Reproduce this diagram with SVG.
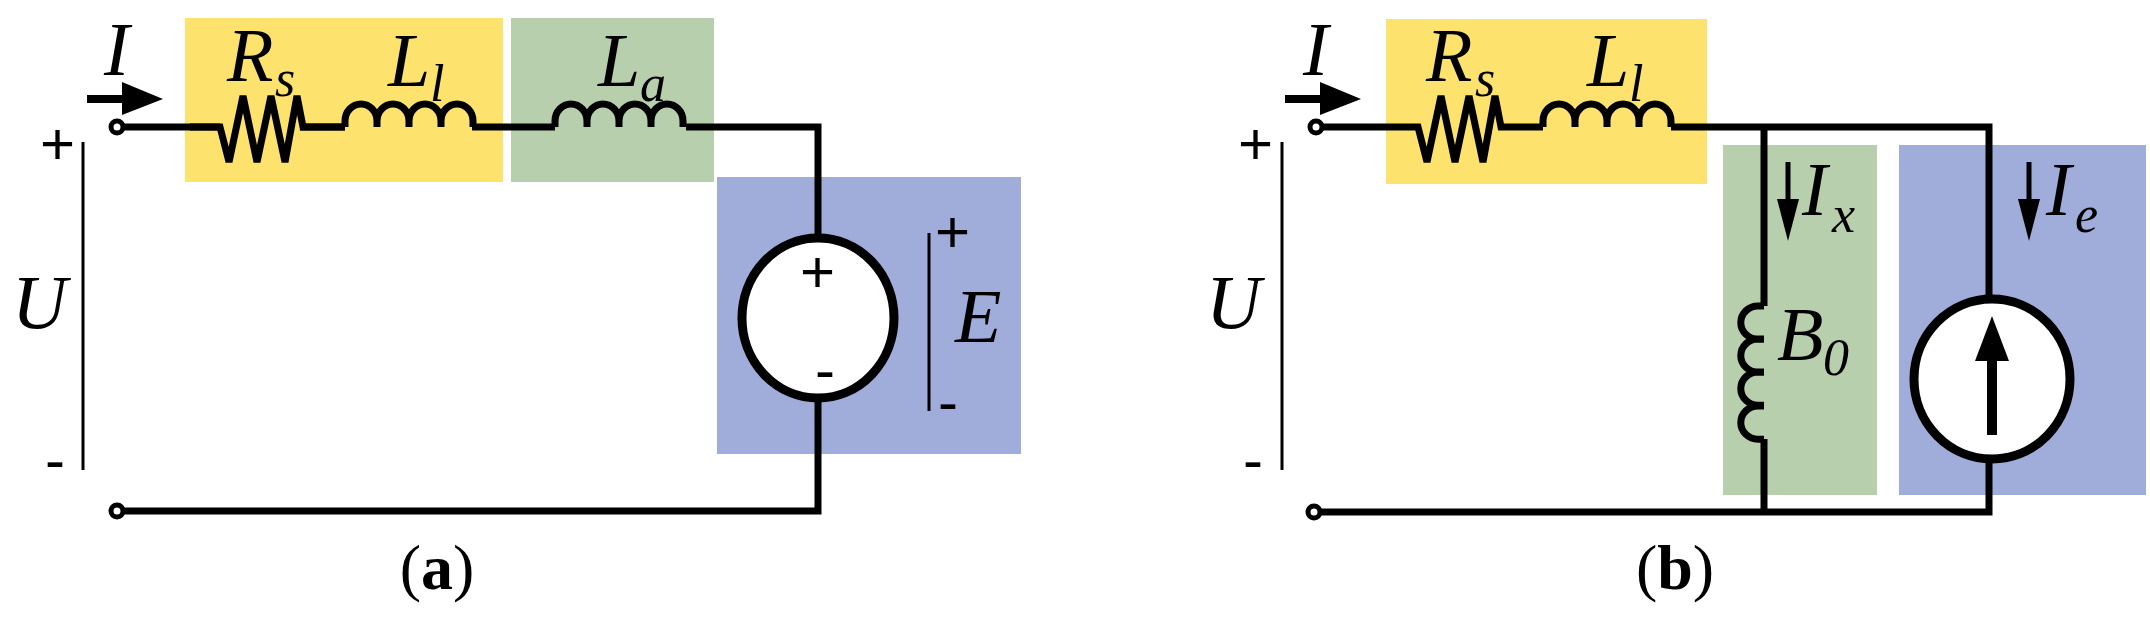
<svg xmlns="http://www.w3.org/2000/svg" width="2150" height="617" viewBox="0 0 2150 617">
<style>
.w{fill:none;stroke:#000;stroke-width:7;stroke-linejoin:miter}
.t{fill:none;stroke:#000;stroke-width:3}
.it{font-family:"Liberation Serif",serif;font-style:italic;font-size:76px}
.sub{font-family:"Liberation Serif",serif;font-style:italic;font-size:52px}
.pm{font-family:"Liberation Sans",sans-serif;font-size:60px}
.cap{font-family:"Liberation Serif",serif;font-size:64px}
.ah{fill:#000}
</style>
<g id="panel-a">
<rect id="a-yellow" x="185" y="18" width="318" height="164" fill="#fde26e"/>
<rect id="a-green" x="511" y="18" width="203" height="164" fill="#b8cfad"/>
<rect id="a-blue" x="717" y="177" width="304" height="277" fill="#a0acd9"/>
<g id="a-wires">
<path class="w" d="M122,127 H220 M300,127 H345 M472,127 H555 M686,127 H818 V240 M818,398 V511 H122"/>
<path class="w" d="M190,127 H220 L229,162 L243,96 L257,162 L271,96 L285,162 L297,96 L303,127 H345"/>
<path class="w" d="M345,127 v-6 a16,17 0 0 1 32,0 v6 M377,127 v-6 a16,17 0 0 1 32,0 v6 M409,127 v-6 a16,17 0 0 1 32,0 v6 M441,127 v-6 a16,17 0 0 1 32,0 v6"/>
<path class="w" d="M555,127 v-6 a16,17 0 0 1 32,0 v6 M587,127 v-6 a16,17 0 0 1 32,0 v6 M619,127 v-6 a16,17 0 0 1 32,0 v6 M651,127 v-6 a16,17 0 0 1 32,0 v6"/>
</g>
<circle cx="117" cy="127" r="6" fill="#fff" stroke="#000" stroke-width="5"/>
<circle cx="117" cy="511" r="6" fill="#fff" stroke="#000" stroke-width="5"/>
<ellipse cx="818" cy="318" rx="76" ry="80" fill="#fff" stroke="#000" stroke-width="9"/>
<line x1="87" y1="99" x2="130" y2="99" stroke="#000" stroke-width="8"/>
<path class="ah" d="M122,82 L163,99 L122,115 z"/>
<line class="t" x1="83" y1="142" x2="83" y2="470"/>
<line class="t" x1="929" y1="233" x2="929" y2="411"/>
<text class="it" x="104" y="75">I</text>
<text class="it" x="227" y="81">R</text><text class="sub" x="275" y="96">s</text>
<text class="it" x="388" y="86">L</text><text class="sub" x="430" y="101">l</text>
<text class="it" x="598" y="86">L</text><text class="sub" x="640" y="101">a</text>
<text class="it" x="12" y="328">U</text>
<text class="it" x="955" y="342">E</text>
<text class="pm" x="40" y="164">+</text>
<text class="pm" x="45" y="480">-</text>
<text class="pm" x="800" y="292">+</text>
<text class="pm" x="815" y="390">-</text>
<text class="pm" x="935" y="252">+</text>
<text class="pm" x="938" y="422">-</text>
<text class="cap" x="437" y="589" text-anchor="middle">(<tspan font-weight="bold">a</tspan>)</text>
</g>
<g id="panel-b">
<rect id="b-yellow" x="1386" y="19" width="321" height="165" fill="#fde26e"/>
<rect id="b-green" x="1723" y="145" width="154" height="350" fill="#b8cfad"/>
<rect id="b-blue" x="1899" y="145" width="247" height="350" fill="#a0acd9"/>
<g id="b-wires">
<path class="w" d="M1321,127 H1418 L1427,162 L1441,96 L1455,162 L1469,96 L1483,162 L1495,96 L1501,127 H1543 M1671,127 H1989 V300 M1989,459 V512 H1319 M1764,127 V306 M1764,439 V512"/>
<path class="w" d="M1543,127 v-6 a16,17 0 0 1 32,0 v6 M1575,127 v-6 a16,17 0 0 1 32,0 v6 M1607,127 v-6 a16,17 0 0 1 32,0 v6 M1639,127 v-6 a16,17 0 0 1 32,0 v6"/>
<path class="w" d="M1764,306 h-6 a16.6,16 0 0 0 0,33.2 h6 M1764,339 h-6 a16.6,16 0 0 0 0,33.2 h6 M1764,372 h-6 a16.6,16 0 0 0 0,33.2 h6 M1764,406 h-6 a16.6,16 0 0 0 0,33.2 h6"/>
</g>
<circle cx="1316" cy="127" r="6" fill="#fff" stroke="#000" stroke-width="5"/>
<circle cx="1314" cy="512" r="6" fill="#fff" stroke="#000" stroke-width="5"/>
<ellipse cx="1992" cy="379" rx="78" ry="80" fill="#fff" stroke="#000" stroke-width="9"/>
<line x1="1992" y1="435" x2="1992" y2="350" stroke="#000" stroke-width="10"/>
<path class="ah" d="M1992,316 L2009,361 L1975,361 z"/>
<line x1="1285" y1="99" x2="1330" y2="99" stroke="#000" stroke-width="8"/>
<path class="ah" d="M1320,82 L1361,99 L1320,115 z"/>
<line x1="1788" y1="162" x2="1788" y2="215" stroke="#000" stroke-width="5"/>
<path class="ah" d="M1777,199 L1799,199 L1788,241 z"/>
<line x1="2029" y1="162" x2="2029" y2="215" stroke="#000" stroke-width="5"/>
<path class="ah" d="M2018,199 L2040,199 L2029,241 z"/>
<line class="t" x1="1282" y1="142" x2="1282" y2="470"/>
<text class="it" x="1303" y="75">I</text>
<text class="it" x="1426" y="81">R</text><text class="sub" x="1475" y="96">s</text>
<text class="it" x="1587" y="86">L</text><text class="sub" x="1629" y="101">l</text>
<text class="it" x="1206" y="328">U</text>
<text class="it" x="1802" y="215">I</text><text class="sub" x="1832" y="232">x</text>
<text class="it" x="2046" y="215">I</text><text class="sub" x="2075" y="232">e</text>
<text class="it" x="1777" y="360">B</text><text class="sub" x="1823" y="375">0</text>
<text class="pm" x="1238" y="164">+</text>
<text class="pm" x="1243" y="480">-</text>
<text class="cap" x="1675" y="589" text-anchor="middle">(<tspan font-weight="bold">b</tspan>)</text>
</g>
</svg>
